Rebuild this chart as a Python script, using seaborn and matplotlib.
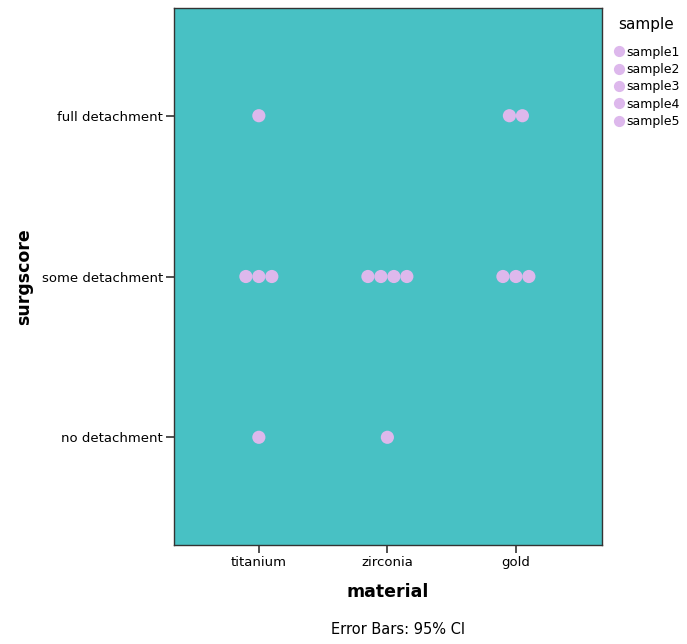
import pandas as pd
import seaborn as sns
import matplotlib.pyplot as plt

# data: one surgscore per sample per material
materials = ["titanium", "zirconia", "gold"]
score_labels = ["no detachment", "some detachment", "full detachment"]
samples = ["sample1", "sample2", "sample3", "sample4", "sample5"]

titanium_scores = [2, 1, 1, 1, 0]
zirconia_scores = [1, 1, 1, 1, 0]
gold_scores = [2, 2, 1, 1, 1]

df = pd.DataFrame({
    "material": [m for m in materials for _ in samples],
    "sample": samples * 3,
    "surgscore": titanium_scores + zirconia_scores + gold_scores,
})

# symmetric side-by-side placement of tied points (like a dot plot)
step = 0.101
df["code"] = df["material"].map({m: i for i, m in enumerate(materials)})
df["rank"] = df.groupby(["material", "surgscore"]).cumcount()
df["n"] = df.groupby(["material", "surgscore"])["sample"].transform("count")
df["xpos"] = df["code"] + (df["rank"] - (df["n"] - 1) / 2) * step

teal = "#48C1C4"
lilac = "#DDB8EC"

sns.set_style("white")
plt.rcParams["font.family"] = ["DejaVu Sans"]
plt.rcParams["text.color"] = "black"
plt.rcParams["axes.labelcolor"] = "black"
plt.rcParams["xtick.color"] = "black"
plt.rcParams["ytick.color"] = "black"

fig = plt.figure(figsize=(6.87, 6.44), dpi=100)
ax = fig.add_axes([0.2533, 0.1537, 0.6230, 0.8339])
ax.set_facecolor(teal)

sns.scatterplot(data=df, x="xpos", y="surgscore", hue="sample", hue_order=samples,
                palette=[lilac] * 5, s=90, linewidth=0, ax=ax)

ax.set_xlim(-0.66, 2.67)
ax.set_ylim(-0.67, 2.67)
ax.set_xticks(range(len(materials)))
ax.set_xticklabels(materials, fontsize=9.5)
ax.set_yticks(range(len(score_labels)))
ax.set_yticklabels(score_labels, fontsize=9.5)
ax.tick_params(axis="both", direction="out", length=6, width=1.2, color="#333333",
               bottom=True, left=True, pad=2)

for sp in ax.spines.values():
    sp.set_color("#333333")
    sp.set_linewidth(1)

ax.set_xlabel("material", fontsize=12.5, fontweight="bold", labelpad=10)
ax.set_ylabel("surgscore", fontsize=12.5, fontweight="bold", labelpad=6)

leg = ax.legend(title="sample", loc="upper left", bbox_to_anchor=(1.005, 1.0),
                frameon=False, fontsize=9, title_fontsize=11,
                handletextpad=0.1, labelspacing=0.35, borderaxespad=0.3,
                markerscale=0.85, handlelength=1.0)
leg._legend_box.sep = 10

fig.text(398 / 687, 1 - 630 / 644, "Error Bars: 95% CI", ha="center", va="center",
         fontsize=10.5)

plt.savefig("out.png", dpi=100)
